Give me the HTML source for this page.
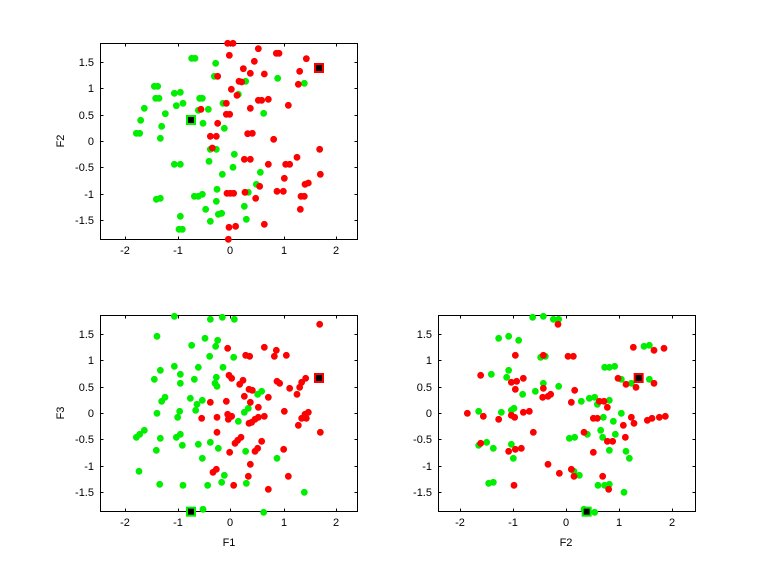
<!DOCTYPE html>
<html><head><meta charset="utf-8"><style>
html,body{margin:0;padding:0;background:#fff;}
svg{display:block;font-family:"Liberation Sans",sans-serif;font-size:11px;}
</style></head><body>
<svg id="s" width="768" height="576" xmlns="http://www.w3.org/2000/svg">
<rect width="768" height="576" fill="#fff"/>
</svg>
<script>
const NS="http://www.w3.org/2000/svg",S=document.getElementById('s');
function el(t,a,txt){const e=document.createElementNS(NS,t);for(const k in a)e.setAttribute(k,a[k]);if(txt!==undefined)e.textContent=txt;S.appendChild(e);return e;}
function axes(x0,y0,x1,y1,xt,yt){
 el('rect',{x:x0+.5,y:y0+.5,width:x1-x0,height:y1-y0,fill:'#fff',stroke:'#000','stroke-width':1});
 const xl=['-2','-1','0','1','2'],yl=['1.5','1','0.5','0','-0.5','-1','-1.5'];
 xt.forEach((x,i)=>{el('line',{x1:x+.5,y1:y1+.5,x2:x+.5,y2:y1-2.5,stroke:'#000'});el('line',{x1:x+.5,y1:y0+.5,x2:x+.5,y2:y0+3.5,stroke:'#000'});
  el('text',{x:x,y:y1+15,'text-anchor':'middle'},xl[i]);});
 yt.forEach((y,i)=>{el('line',{x1:x0+.5,y1:y+.5,x2:x0+3.5,y2:y+.5,stroke:'#000'});el('line',{x1:x1+.5,y1:y+.5,x2:x1-2.5,y2:y+.5,stroke:'#000'});
  el('text',{x:x0-6,y:y+4,'text-anchor':'end'},yl[i]);});
}
function pts(ox,oy,arr,col){arr.forEach(p=>el('circle',{cx:ox+p[0]/3,cy:oy+p[1]/3,r:3.4,fill:col}));}
function sq(ox,oy,p,col){const x=ox+p[0]/3,y=oy+p[1]/3;el('rect',{x:x-5,y:y-5,width:10,height:10,fill:col});el('rect',{x:x-3,y:y-3,width:6,height:6,fill:'#000'});}
const xtA=[125,178,230,284,336],ytA=[62,88,115,141,167,194,220];
axes(100,43,357,239,xtA,ytA);
axes(100,315,357,511,xtA,ytA.map(v=>v+272));
axes(438,315,695,511,[460,513,566,619,672],ytA.map(v=>v+272));
el('text',{x:64,y:141,'text-anchor':'middle',transform:'rotate(-90 64 141)'},'F2');
el('text',{x:64,y:413,'text-anchor':'middle',transform:'rotate(-90 64 413)'},'F3');
el('text',{x:229,y:546,'text-anchor':'middle'},'F1');
el('text',{x:566,y:546,'text-anchor':'middle'},'F2');
const R='#ff0000',G='#00ee00';
// plot1
pts(95,38,[[290,61],[300,61],[362,76],[358,115],[452,130],[548,121],[628,136],[178,145],[188,145],[238,166],[256,163],[182,181],[192,181],[314,181],[322,181],[430,169],[244,203],[264,196],[148,211],[310,217],[340,214],[384,196],[211,227],[506,226],[137,247],[200,265],[324,256],[388,271],[124,286],[134,286],[196,301],[346,334],[364,334],[418,349],[342,370],[238,379],[256,379],[414,388],[382,409],[496,403],[484,439],[298,475],[310,475],[322,469],[366,454],[460,463],[184,484],[196,481],[364,490],[448,505],[332,514],[370,529],[380,526],[256,535],[454,544],[346,550],[252,574],[262,574]],G);
pts(95,38,[[398,16],[414,16],[490,32],[544,46],[552,46],[403,52],[634,62],[478,70],[445,92],[614,100],[466,106],[508,108],[368,115],[432,130],[440,132],[610,139],[409,154],[426,172],[490,187],[500,187],[520,184],[394,196],[580,202],[318,214],[466,211],[394,229],[404,229],[368,256],[346,295],[364,295],[458,287],[472,286],[536,304],[674,334],[352,330],[606,358],[448,364],[466,364],[520,379],[572,379],[584,379],[568,421],[676,409],[630,439],[640,435],[494,445],[396,466],[406,466],[416,466],[450,463],[546,460],[565,460],[482,481],[618,475],[628,475],[616,514],[508,559],[402,568],[422,565],[400,604]],R);
sq(95,38,[672,90],R);sq(95,38,[288,246],G);
// plot2
pts(95,310,[[238,19],[346,28],[382,22],[418,28],[186,79],[330,85],[368,91],[290,106],[362,109],[344,139],[416,142],[238,169],[196,181],[310,172],[384,172],[178,208],[256,193],[256,220],[298,208],[360,220],[364,202],[366,229],[488,253],[500,244],[200,274],[210,262],[286,265],[306,283],[322,271],[186,310],[254,304],[248,322],[302,301],[448,307],[460,295],[430,334],[124,382],[134,373],[148,361],[196,385],[244,382],[256,373],[262,406],[310,403],[346,397],[370,415],[184,421],[322,445],[452,424],[546,445],[132,484],[194,523],[264,526],[338,526],[380,517],[388,496],[454,520],[628,547],[324,598],[506,607]],G);
pts(95,310,[[674,43],[508,112],[544,121],[398,115],[452,136],[464,139],[538,139],[574,136],[402,196],[410,205],[444,211],[434,223],[546,214],[554,220],[632,205],[620,217],[614,232],[584,235],[462,238],[472,241],[606,253],[448,259],[520,262],[346,277],[394,274],[466,277],[490,292],[568,304],[640,307],[630,313],[620,325],[634,325],[398,313],[410,319],[400,328],[366,322],[320,325],[508,319],[490,322],[480,328],[470,337],[462,340],[610,346],[676,367],[366,367],[438,382],[428,391],[420,400],[500,394],[488,415],[480,424],[404,427],[566,418],[466,463],[364,478],[354,487],[460,499],[580,499],[416,526],[520,538]],R);
sq(95,310,[672,204],R);sq(95,310,[288,605],G);
// plot3
pts(434,310,[[296,22],[328,19],[358,28],[374,28],[194,85],[224,79],[254,91],[320,142],[334,139],[512,172],[526,172],[542,169],[224,181],[172,193],[218,202],[328,220],[374,229],[304,244],[266,253],[562,208],[592,220],[646,208],[442,274],[466,265],[482,262],[526,271],[490,283],[134,304],[202,307],[232,301],[240,295],[562,310],[508,322],[538,334],[500,361],[460,373],[506,382],[544,373],[406,385],[422,382],[134,406],[158,397],[178,415],[232,403],[238,445],[526,421],[576,424],[586,445],[420,484],[436,496],[164,520],[178,517],[492,526],[512,526],[526,523],[570,547],[450,598],[482,607],[630,109],[646,106]],G);
pts(434,310,[[372,43],[244,136],[328,136],[402,139],[418,139],[598,112],[660,121],[690,115],[140,196],[232,217],[248,214],[268,205],[244,238],[328,235],[422,241],[342,259],[350,253],[326,262],[552,205],[576,223],[606,232],[660,220],[412,277],[496,274],[510,274],[520,292],[100,310],[148,319],[194,328],[232,316],[242,322],[268,307],[286,304],[478,325],[490,325],[592,322],[600,340],[568,346],[640,331],[654,325],[676,322],[694,319],[298,367],[450,367],[574,382],[520,394],[536,394],[140,400],[224,424],[244,418],[262,415],[478,427],[342,463],[376,490],[412,478],[420,499],[506,499],[524,538],[240,526]],R);
sq(434,310,[614,204],R);sq(434,310,[458,605],G);
</script>
</body></html>
